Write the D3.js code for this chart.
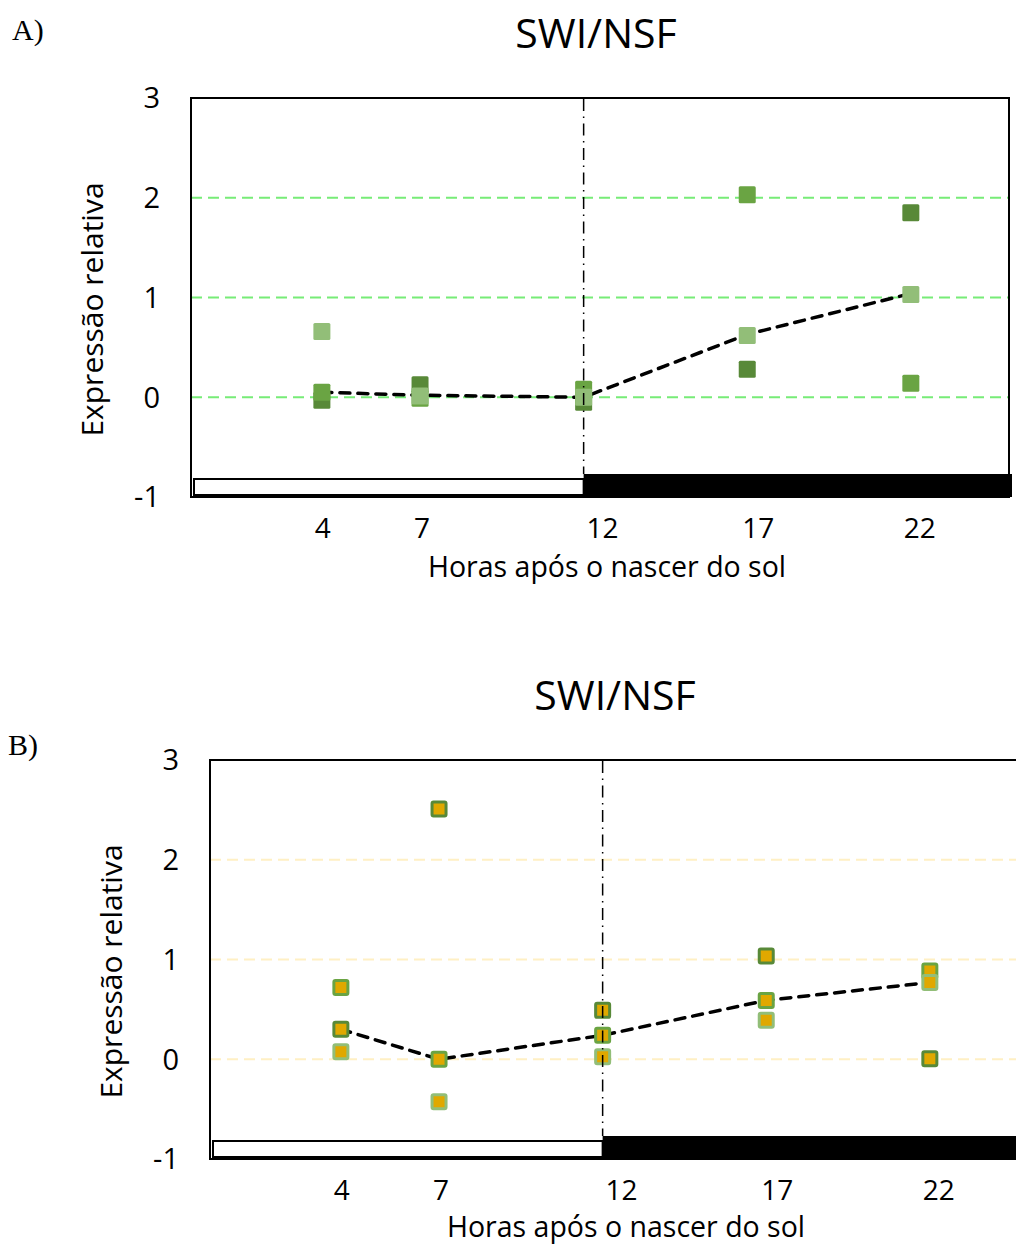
<!DOCTYPE html>
<meta charset="utf-8">
<style>
    body { margin: 0; background: #fff; }
    text { font-family: "Open Sans", sans-serif; fill: #000; }
    .panel-tag { font-family: "Liberation Serif", serif; }
</style>
<body>
<script src="https://cdn.jsdelivr.net/npm/d3@7"></script>
<script>

// hours after sunrise
var hours = [4, 7, 12, 17, 22];
var hourLabels = ["4", "7", "12", "17", "22"];
var yTicks = [-1, 0, 1, 2, 3];
var gridValues = [0, 1, 2];
var dayEnd = 12, xMax = 25;

// panel A replicates
var aDark   = [-0.03, 0.125, -0.05, 0.28, 1.85];
var aMedium = [0.05, -0.01, 0.08, 2.03, 0.14];
var aLight  = [0.66, 0.013, 0.0, 0.62, 1.03];
var aLine   = [0.05, 0.02, 0.0, 0.63, 1.04];

// panel B replicates
var bDark   = [0.30, 2.51, 0.49, 1.035, 0.005];
var bMedium = [0.72, 0.0, 0.24, 0.59, 0.885];
var bLight  = [0.075, -0.425, 0.025, 0.39, 0.77];
var bLine   = [0.30, 0.0, 0.24, 0.59, 0.77];

var greens = ["#588938", "#6aa443", "#92be78"];

var svg = d3.select("body").append("svg")
    .attr("width", 1016)
    .attr("height", 1247);

// tick labels in the picture sit a little right of the points
var labelNudge = [1, 2, 19, 11, 9];

function drawPanel(p) {
    var w = 818, h = 399;
    var x = d3.scaleLinear().domain([0, xMax]).range([p.left, p.left + w]);
    var y = d3.scaleLinear().domain([-1, 3]).range([p.top + h, p.top]);
    var g = svg.append("g");

    g.append("text").attr("class", "panel-tag")
        .attr("x", p.tagX).attr("y", p.tagY)
        .style("font-size", "30px").text(p.tag);

    g.append("text")
        .attr("x", p.left + 405).attr("y", p.top - 50)
        .attr("text-anchor", "middle")
        .style("font-size", "41px").text("SWI/NSF");

    // gridlines
    g.selectAll(".grid").data(gridValues).enter().append("line")
        .attr("x1", p.left).attr("x2", p.left + w)
        .attr("y1", function(d) { return y(d); })
        .attr("y2", function(d) { return y(d); })
        .attr("stroke", p.gridColor)
        .attr("stroke-width", 2)
        .attr("stroke-dasharray", "11,6");

    // frame
    g.append("rect")
        .attr("x", p.left).attr("y", p.top)
        .attr("width", w).attr("height", h)
        .attr("fill", "none").attr("stroke", "#000").attr("stroke-width", 2);

    // light / dark bars
    g.append("rect")
        .attr("x", x(0) + 3).attr("y", y(-1) - 18)
        .attr("width", x(dayEnd) - x(0) - 3).attr("height", 16)
        .attr("fill", "#fff").attr("stroke", "#000").attr("stroke-width", 2);
    g.append("rect")
        .attr("x", x(dayEnd)).attr("y", y(-1) - 23)
        .attr("width", x(xMax) - x(dayEnd) + 3).attr("height", 23)
        .attr("fill", "#000");

    // y axis labels
    g.selectAll(".ytick").data(yTicks).enter().append("text")
        .attr("x", p.left - 31)
        .attr("y", function(d) { return y(d); })
        .attr("dy", "0.36em")
        .attr("text-anchor", "end")
        .style("font-size", "29px")
        .text(function(d) { return d; });

    // x axis labels
    g.selectAll(".xtick").data(hours).enter().append("text")
        .attr("x", function(d, i) { return x(d) + labelNudge[i]; })
        .attr("y", p.top + h + 41)
        .attr("text-anchor", "middle")
        .style("font-size", "28px")
        .text(function(d, i) { return hourLabels[i]; });

    g.append("text")
        .attr("x", p.left + 416).attr("y", p.top + h + p.titleDy)
        .attr("text-anchor", "middle")
        .style("font-size", "28.5px")
        .text("Horas após o nascer do sol");

    g.append("text")
        .attr("transform", "translate(" + (p.left - 88) + "," + (p.top + h / 2 + 12) + ") rotate(-90)")
        .attr("text-anchor", "middle")
        .style("font-size", "30px")
        .text("Expressão relativa");

    // median line
    var line = d3.line()
        .x(function(d, i) { return x(hours[i]); })
        .y(function(d) { return y(d); });
    g.append("path")
        .datum(p.line)
        .attr("d", line)
        .attr("fill", "none")
        .attr("stroke", "#000")
        .attr("stroke-width", 3.5)
        .attr("stroke-linecap", "round")
        .attr("stroke-dasharray", "10,8");

    // replicate markers
    p.series.forEach(function(vals, s) {
        g.selectAll(".m" + s).data(vals).enter().append("rect")
            .attr("x", function(d, i) { return x(hours[i]) - p.size / 2; })
            .attr("y", function(d) { return y(d) - p.size / 2; })
            .attr("width", p.size).attr("height", p.size)
            .attr("rx", 1.5)
            .attr("fill", p.fill || greens[s])
            .attr("stroke", p.fill ? greens[s] : "none")
            .attr("stroke-width", 3);
    });

    // sunset marker
    g.append("line")
        .attr("x1", x(dayEnd)).attr("x2", x(dayEnd))
        .attr("y1", p.top + 1).attr("y2", y(-1) - 23)
        .attr("stroke", "#000")
        .attr("stroke-width", 1.5)
        .attr("stroke-dasharray", "12,5.5,1.5,5.5");
}

drawPanel({
    tag: "A)", tagX: 12, tagY: 40,
    left: 191, top: 98, titleDy: 80,
    gridColor: "#77ec77",
    series: [aDark, aMedium, aLight],
    line: aLine,
    size: 17
});

drawPanel({
    tag: "B)", tagX: 8, tagY: 755,
    left: 210, top: 760, titleDy: 78,
    gridColor: "#fff0c4",
    series: [bDark, bMedium, bLight],
    line: bLine,
    fill: "#e0a800",
    size: 14
});

</script>
</body>
